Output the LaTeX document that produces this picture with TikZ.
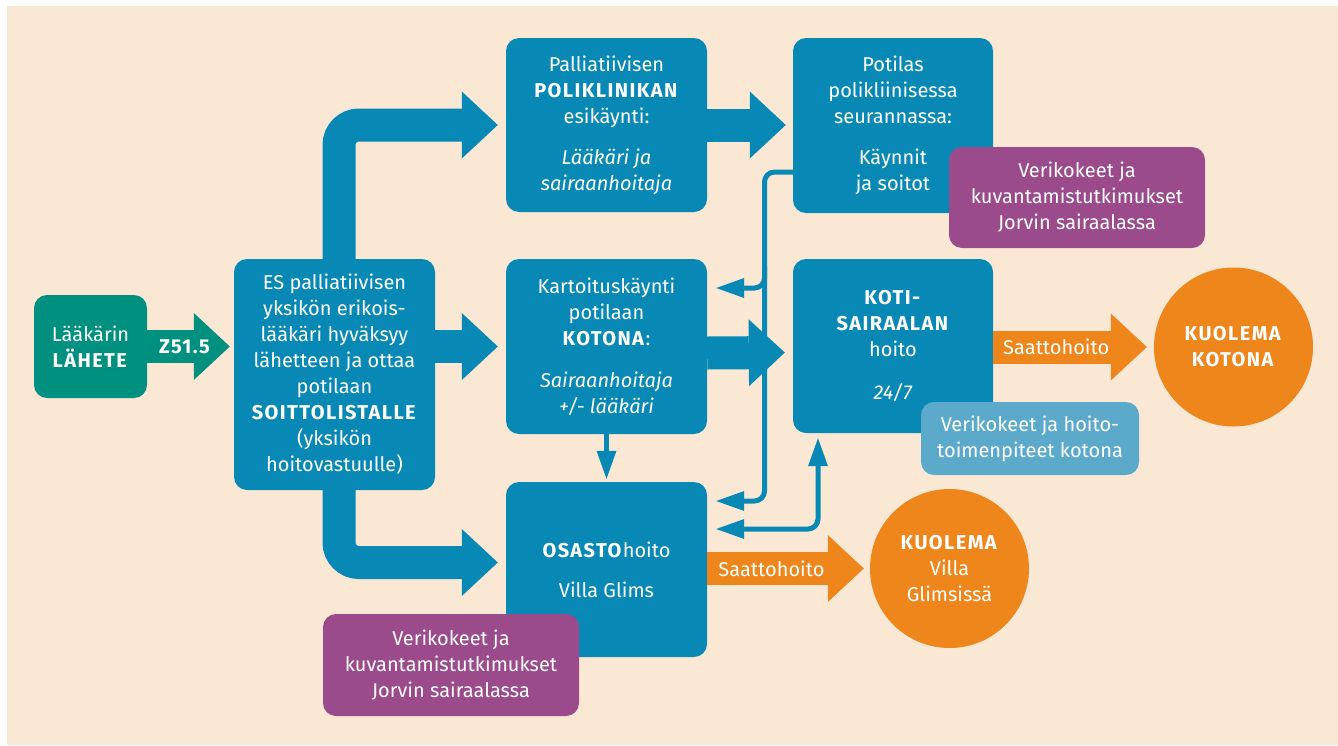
\documentclass[tikz,border=0pt]{standalone}
\usepackage{fontspec}
\setmainfont{Fira Sans}[BoldFeatures={LetterSpace=7}]
\usetikzlibrary{arrows.meta,calc}
\definecolor{cBeige}{HTML}{FAE8D4}
\definecolor{cBlue}{HTML}{0889B5}
\definecolor{cGreen}{HTML}{00907F}
\definecolor{cPurple}{HTML}{9B4A8C}
\definecolor{cLight}{HTML}{5CAACB}
\definecolor{cOrange}{HTML}{EF861B}
\newcommand\dgfont{\fontsize{20}{26}\selectfont}
\tikzset{
  bigtip/.tip={Triangle[length=36pt,width=67pt,line width=0pt]},
  smalltip/.tip={Triangle[length=28pt,width=20pt,line width=0pt]},
  box/.style={rounded corners=13pt, inner sep=0pt, align=center, text=white, font=\dgfont},
  bluebox/.style={box, fill=cBlue, minimum width=201pt, minimum height=175pt},
  greenbox/.style={box, fill=cGreen},
  purplebox/.style={box, fill=cPurple, minimum width=256pt, minimum height=102pt},
  lightbox/.style={box, fill=cLight},
  endcircle/.style={circle, fill=cOrange, inner sep=0pt, minimum size=159pt, align=center, text=white, font=\dgfont},
  bigarrow/.style={draw=cBlue, line width=33pt, arrows={-bigtip}},
  greenarrow/.style={draw=cGreen, line width=33pt, arrows={-bigtip}},
  orangearrow/.style={draw=cOrange, line width=33pt, arrows={-bigtip}},
  thinline/.style={draw=cBlue, line width=5pt, rounded corners=10pt},
  lbl/.style={text=white, font=\dgfont, inner sep=0pt},
}
\begin{document}
\begin{tikzpicture}[x=1pt,y=-1pt]
\useasboundingbox (0,0) rectangle (1338,745);
\fill[white] (0,0) rectangle (1338,745);
\fill[cBeige] (7,6) rectangle (1338,745);

% boxes
\node[greenbox, minimum width=113pt, minimum height=103pt] (lahete) at (90.5,346.5) {Lääkärin\\\textbf{LÄHETE}};
\node[bluebox, minimum height=231pt] (main) at (334.5,374.5) {ES palliatiivisen\\yksikön erikois-\\lääkäri hyväksyy\\lähetteen ja ottaa\\potilaan\\\textbf{SOITTOLISTALLE}\\(yksikön\\hoitovastuulle)};
\node[bluebox, minimum height=174pt] (poli) at (606.5,125) {Palliatiivisen\\\textbf{POLIKLINIKAN}\\esikäynti:\\[15pt]\textit{Lääkäri ja}\\\textit{sairaanhoitaja}};
\node[bluebox, minimum width=200pt] (potilas) at (893,125.5) {Potilas\\polikliinisessa\\seurannassa:\\[15pt]Käynnit\\ja soitot};
\node[bluebox] (kart) at (606.5,346.5) {Kartoituskäynti\\potilaan\\\textbf{KOTONA}:\\[16pt]\textit{Sairaanhoitaja}\\\textit{+/- lääkäri}};
\node[bluebox, minimum width=200pt, minimum height=174pt] (koti) at (893,346) {\textbf{KOTI-}\\\textbf{SAIRAALAN}\\hoito\\[17pt]\textit{24/7}};
\node[bluebox] (osasto) at (606.5,569.5) {\textbf{OSASTO}hoito\\[14pt]Villa Glims};
\node[purplebox, minimum height=101pt] (lab1) at (1077,197.5) {Verikokeet ja\\kuvantamistutkimukset\\Jorvin sairaalassa};
\node[purplebox] (lab2) at (451,665) {Verikokeet ja\\kuvantamistutkimukset\\Jorvin sairaalassa};
\node[lightbox, minimum width=218pt, minimum height=73pt] (homecare) at (1030,438.5) {Verikokeet ja hoito-\\toimenpiteet kotona};
\node[endcircle] (kotona) at (1233.5,347) {\textbf{KUOLEMA}\\\textbf{KOTONA}};
\node[endcircle] (villa) at (949.5,568.5) {\textbf{KUOLEMA}\\Villa\\Glimsissä};

% thin connectors (drawn below the big arrows)
\coordinate (bus) at (764.5,0);
\coordinate (kin) at ($(kart.east)+(9,-58.5)$);
\coordinate (oin1) at ($(osasto.east)+(9,-68.5)$);
\coordinate (oin2) at ($(osasto.east)+(9,-40.5)$);
\coordinate (kotiin) at ($(koti.south)+(-75,5)$);
\draw[thinline, arrows={-smalltip}] ($(potilas.west)+(0,46.5)$) -| (bus |- oin1) -- (oin1);
\draw[thinline, arrows={-smalltip}] ($(bus |- kin)+(0,-22)$) -- (bus |- kin) -- (kin);
\draw[thinline, arrows={smalltip-smalltip}] (oin2) -| (kotiin);
\draw[thinline, arrows={-smalltip}] (kart.south) -- ($(osasto.north)+(0,-3)$);

% big arrows
\draw[greenarrow] (lahete.east) -- ($(main.west |- lahete.east)+(-4,0)$) node[lbl, pos=0.46] {\textbf{Z51.5}};
\draw[bigarrow, rounded corners=20pt] ($(main.north)+(4.5,0)$) |- ($(poli.west)+(-8,0)$);
\draw[bigarrow] (main.east |- kart.west) -- ($(kart.west)+(-8,0)$);
\draw[bigarrow, rounded corners=20pt] ($(main.south)+(4.5,0)$) |- ($(osasto.west)+(-8,-7)$);
\draw[bigarrow] (poli.east) -- ($(poli.east -| potilas.west)+(-7,0)$);
\draw[bigarrow] ($(kart.east)+(0,6.5)$) -- ($(koti.west)+(-8,6.5)$);
\draw[orangearrow] (koti.east |- kotona.west) -- ($(kotona.west)+(-7,0)$) node[lbl, pos=0.41] {Saattohoito};
\draw[orangearrow] (osasto.east |- villa.west) -- ($(villa.west)+(-6,0)$) node[lbl, pos=0.41] {Saattohoito};
\end{tikzpicture}
\end{document}
